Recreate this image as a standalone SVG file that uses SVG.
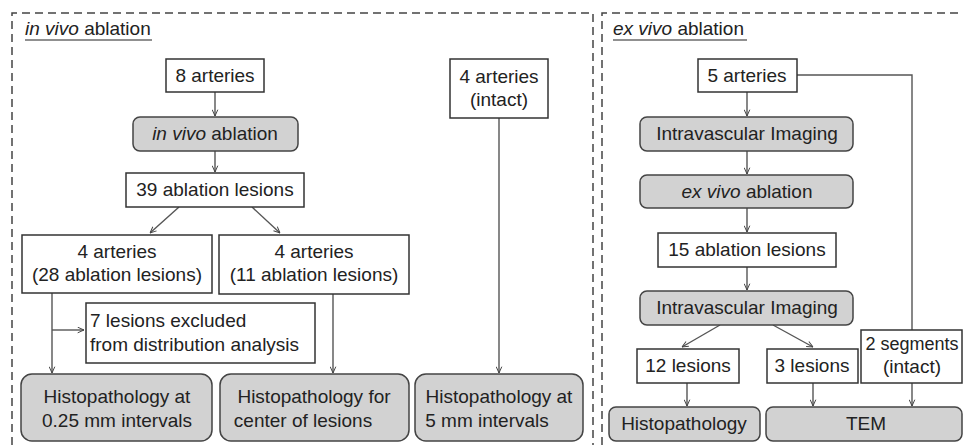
<svg xmlns="http://www.w3.org/2000/svg" width="963" height="445" viewBox="0 0 963 445">
<defs>
<marker id="ah" viewBox="0 0 10 10" refX="10" refY="5" markerWidth="7" markerHeight="7" markerUnits="userSpaceOnUse" orient="auto">
<path d="M1,1 L10,5 L1,9" fill="none" stroke="#444" stroke-width="1.4"/>
</marker>
</defs>
<style>
text{font-family:"Liberation Sans",Arial,sans-serif;font-size:19px;fill:#222;}
.c{text-anchor:middle;}
.box{fill:#fff;stroke:#333;stroke-width:1.5;}
.gray{fill:#d2d2d2;stroke:#444;stroke-width:1.5;}
.dash{fill:none;stroke:#444;stroke-width:1.5;stroke-dasharray:8,5;}
.ln{fill:none;stroke:#555;stroke-width:1.4;}
.ar{fill:none;stroke:#555;stroke-width:1.4;marker-end:url(#ah);}
</style>
<rect width="963" height="445" fill="#fff"/>
<g id="panels">
<path class="dash" d="M12,445 V13 H593 V445"/>
<path class="dash" d="M602,445 V13 H963"/>
<text x="25" y="35"><tspan font-style="italic">in vivo</tspan> ablation</text>
<line x1="25" y1="40" x2="152" y2="40" stroke="#222" stroke-width="1.2"/>
<text x="613" y="35"><tspan font-style="italic">ex vivo</tspan> ablation</text>
<line x1="613" y1="40" x2="747" y2="40" stroke="#222" stroke-width="1.2"/>
</g>
<g id="connectors">
<line class="ar" x1="215" y1="92" x2="215" y2="116"/>
<line class="ar" x1="215" y1="151" x2="215" y2="172"/>
<line class="ar" x1="179" y1="207" x2="150" y2="233"/>
<line class="ar" x1="252" y1="207" x2="280" y2="233"/>
<line class="ar" x1="52" y1="293" x2="52" y2="373"/>
<line class="ar" x1="52" y1="330" x2="84" y2="330"/>
<line class="ar" x1="333" y1="294" x2="333" y2="373"/>
<line class="ar" x1="499" y1="118" x2="499" y2="373"/>
<path class="ln" d="M797,75 H912 V330"/>
<line class="ar" x1="747" y1="92" x2="747" y2="116"/>
<line class="ar" x1="747" y1="151" x2="747" y2="174"/>
<line class="ar" x1="747" y1="208" x2="747" y2="232"/>
<line class="ar" x1="747" y1="267" x2="747" y2="290"/>
<line class="ar" x1="720" y1="325" x2="682" y2="347"/>
<line class="ar" x1="773" y1="325" x2="813" y2="347"/>
<line class="ar" x1="687" y1="383" x2="687" y2="406"/>
<line class="ar" x1="813" y1="383" x2="813" y2="406"/>
<line class="ar" x1="912" y1="383" x2="912" y2="406"/>
</g>
<g id="n8arteries"><rect class="box" x="166" y="59" width="98" height="33"/><text class="c" x="215" y="82">8 arteries</text></g>
<g id="ninvivo"><rect class="gray" x="133" y="117" width="165" height="34" rx="7"/><text class="c" x="215" y="140"><tspan font-style="italic">in vivo</tspan> ablation</text></g>
<g id="n39"><rect class="box" x="126" y="173" width="178" height="34"/><text class="c" x="215" y="196">39 ablation lesions</text></g>
<g id="n28"><rect class="box" x="22" y="235" width="190" height="58"/><text class="c" x="117" y="258">4 arteries</text><text class="c" x="117" y="281">(28 ablation lesions)</text></g>
<g id="n11"><rect class="box" x="219" y="235" width="190" height="59"/><text class="c" x="314" y="258">4 arteries</text><text class="c" x="314" y="281">(11 ablation lesions)</text></g>
<g id="nexcl"><rect class="box" x="86" y="303" width="229" height="60"/><text x="90" y="327">7 lesions excluded</text><text x="90" y="351">from distribution analysis</text></g>
<g id="nintact"><rect class="box" x="450" y="59" width="98" height="59"/><text class="c" x="499" y="83">4 arteries</text><text class="c" x="499" y="106">(intact)</text></g>
<g id="nh025"><rect class="gray" x="21" y="374" width="191" height="67" rx="11"/><text class="c" x="117" y="403">Histopathology at</text><text class="c" x="117" y="427">0.25 mm intervals</text></g>
<g id="nhcenter"><rect class="gray" x="220" y="374" width="189" height="67" rx="11"/><text class="c" x="314" y="403">Histopathology for</text><text class="c" x="303" y="427">center of lesions</text></g>
<g id="nh5"><rect class="gray" x="415" y="374" width="168" height="67" rx="11"/><text class="c" x="499" y="403">Histopathology at</text><text class="c" x="487" y="427">5 mm intervals</text></g>
<g id="n5arteries"><rect class="box" x="698" y="59" width="99" height="33"/><text class="c" x="747" y="82">5 arteries</text></g>
<g id="nivi1"><rect class="gray" x="640" y="117" width="213" height="34" rx="7"/><text class="c" x="747" y="140">Intravascular Imaging</text></g>
<g id="nexvivo"><rect class="gray" x="640" y="175" width="213" height="33" rx="7"/><text class="c" x="747" y="198"><tspan font-style="italic">ex vivo</tspan> ablation</text></g>
<g id="n15"><rect class="box" x="658" y="233" width="178" height="34"/><text class="c" x="747" y="256">15 ablation lesions</text></g>
<g id="nivi2"><rect class="gray" x="640" y="291" width="213" height="34" rx="7"/><text class="c" x="747" y="314">Intravascular Imaging</text></g>
<g id="n12"><rect class="box" x="637" y="349" width="102" height="34"/><text class="c" x="688" y="372">12 lesions</text></g>
<g id="n3"><rect class="box" x="767" y="349" width="91" height="34"/><text class="c" x="812" y="372">3 lesions</text></g>
<g id="nseg"><rect class="box" x="861" y="330" width="101" height="53"/><text class="c" x="912" y="350" style="font-size:18px">2 segments</text><text class="c" x="912" y="373">(intact)</text></g>
<g id="nhisto"><rect class="gray" x="609" y="407" width="151" height="34" rx="7"/><text class="c" x="684" y="430">Histopathology</text></g>
<g id="ntem"><rect class="gray" x="766" y="407" width="196" height="34" rx="7"/><text class="c" x="866" y="430">TEM</text></g>
</svg>
